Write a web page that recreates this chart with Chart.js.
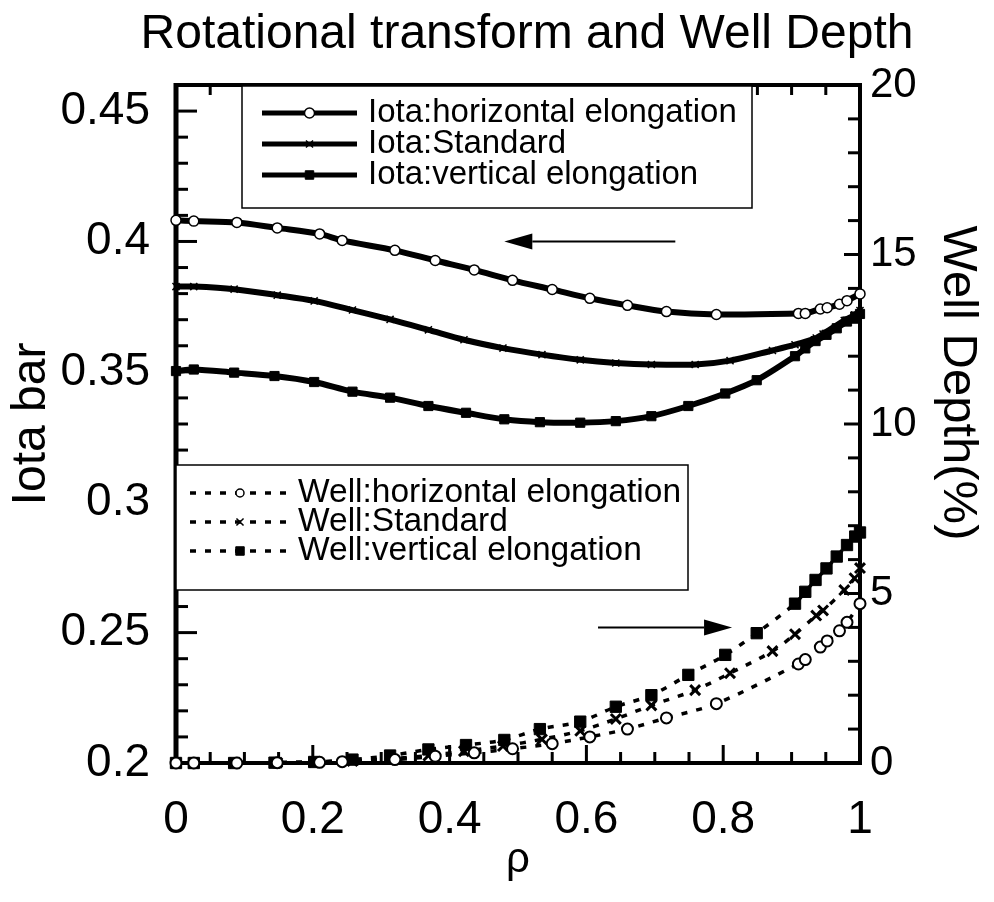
<!DOCTYPE html>
<html>
<head>
<meta charset="utf-8">
<script src="https://cdn.jsdelivr.net/npm/chart.js@4.4.1/dist/chart.umd.min.js"></script>
<style>
  html, body { margin: 0; padding: 0; background: #fff; }
  #wrap { width: 994px; height: 902px; }
</style>
</head>
<body>
<div id="wrap"><canvas id="chart" width="994" height="902"></canvas></div>
<script>
// Normalised radius rho for each configuration
const rhoHorizontal = [0, 0.026, 0.089, 0.148, 0.21, 0.243, 0.32, 0.379, 0.436, 0.492, 0.55, 0.605, 0.66, 0.717, 0.79, 0.91, 0.92, 0.942, 0.952, 0.97, 0.981, 1.0];
const rhoStandard   = [0, 0.026, 0.085, 0.148, 0.202, 0.258, 0.313, 0.369, 0.421, 0.478, 0.535, 0.591, 0.643, 0.695, 0.759, 0.81, 0.872, 0.905, 0.936, 0.946, 0.977, 0.992, 1.0];
const rhoVertical   = [0, 0.026, 0.085, 0.144, 0.202, 0.258, 0.313, 0.369, 0.424, 0.48, 0.532, 0.591, 0.643, 0.695, 0.749, 0.803, 0.849, 0.905, 0.92, 0.935, 0.951, 0.966, 0.981, 0.993, 1.0];

// Rotational transform (iota bar)
const iotaHorizontal = [0.4081, 0.4078, 0.4073, 0.4052, 0.4029, 0.4004, 0.3966, 0.3927, 0.3891, 0.3851, 0.3816, 0.3782, 0.3755, 0.3731, 0.3720, 0.3724, 0.3724, 0.3741, 0.3746, 0.3759, 0.3773, 0.3799];
const iotaStandard   = [0.3827, 0.3827, 0.3817, 0.3794, 0.3772, 0.3737, 0.3701, 0.3661, 0.3623, 0.3591, 0.3566, 0.3546, 0.3534, 0.3528, 0.3528, 0.3543, 0.3582, 0.3604, 0.3630, 0.3645, 0.3697, 0.3718, 0.3735];
const iotaVertical   = [0.3503, 0.3509, 0.3497, 0.3484, 0.3461, 0.3424, 0.3401, 0.3369, 0.3343, 0.3318, 0.3307, 0.3305, 0.3311, 0.3330, 0.3369, 0.3417, 0.3468, 0.3560, 0.3590, 0.3618, 0.3642, 0.3667, 0.3693, 0.3712, 0.3722];

// Magnetic well depth (%)
const wellHorizontal = [0, 0, 0, 0.01, 0.02, 0.04, 0.10, 0.20, 0.30, 0.42, 0.57, 0.77, 1.00, 1.33, 1.75, 2.92, 3.05, 3.42, 3.60, 3.90, 4.15, 4.70];
const wellStandard   = [0, 0, 0, 0.01, 0.03, 0.06, 0.12, 0.22, 0.35, 0.50, 0.70, 0.95, 1.30, 1.70, 2.15, 2.65, 3.30, 3.80, 4.35, 4.50, 5.10, 5.45, 5.75];
const wellVertical   = [0, 0, 0, 0.01, 0.03, 0.10, 0.22, 0.40, 0.53, 0.68, 1.00, 1.22, 1.66, 2.00, 2.60, 3.19, 3.83, 4.70, 5.05, 5.40, 5.74, 6.09, 6.43, 6.68, 6.80];

// Tick labels
const rhoTicks  = [0, 0.2, 0.4, 0.6, 0.8, 1];
const iotaTicks = [0.2, 0.25, 0.3, 0.35, 0.4, 0.45];
const wellTicks = [0, 5, 10, 15, 20];

const titleText = 'Rotational transform and Well Depth';
const wellAxisTitle = 'Well Depth(%)';

const FONT = "'Liberation Sans', Arial, Helvetica, sans-serif";
Chart.defaults.font.family = FONT;
Chart.defaults.color = '#000';

const pts = (xs, ys) => xs.map((x, i) => ({ x, y: ys[i] }));

const iotaBase = {
  yAxisID: 'yIota', borderColor: '#000', borderWidth: 6, tension: 0.3,
  pointBorderColor: '#000', clip: false
};
const wellBase = {
  yAxisID: 'yWell', borderColor: '#000', borderWidth: 3.5, borderDash: [6, 9], tension: 0.3,
  pointBorderColor: '#000', clip: false
};

const datasets = [
  { ...iotaBase, label: 'Iota:horizontal elongation', data: pts(rhoHorizontal, iotaHorizontal),
    pointStyle: 'circle', pointRadius: 5, pointBorderWidth: 1.5, pointBackgroundColor: '#fff', legendRadius: 5 },
  { ...iotaBase, label: 'Iota:Standard', data: pts(rhoStandard, iotaStandard),
    pointStyle: 'crossRot', pointRadius: 5, pointBorderWidth: 1.5, pointBackgroundColor: '#000', legendRadius: 5 },
  { ...iotaBase, label: 'Iota:vertical elongation', data: pts(rhoVertical, iotaVertical),
    pointStyle: 'rect', pointRadius: 6.5, pointBorderWidth: 1, pointBackgroundColor: '#000', legendRadius: 6 },
  { ...wellBase, label: 'Well:horizontal elongation', data: pts(rhoHorizontal, wellHorizontal),
    pointStyle: 'circle', pointRadius: 5.5, pointBorderWidth: 2, pointBackgroundColor: '#fff', legendRadius: 4 },
  { ...wellBase, label: 'Well:Standard', data: pts(rhoStandard, wellStandard),
    pointStyle: 'crossRot', pointRadius: 7, pointBorderWidth: 3, pointBackgroundColor: '#000', legendRadius: 5 },
  { ...wellBase, label: 'Well:vertical elongation', data: pts(rhoVertical, wellVertical),
    pointStyle: 'rect', pointRadius: 8, pointBorderWidth: 1, pointBackgroundColor: '#000', legendRadius: 6 }
];

// Plot frame with inward ticks on all four sides
const frameTicks = {
  id: 'frameTicks',
  beforeDatasetsDraw(chart) {
    const { ctx, chartArea: a, scales } = chart;
    const { x, yIota, yWell } = scales;
    ctx.save();
    ctx.strokeStyle = '#000';
    ctx.lineCap = 'butt';
    const seg = (x1, y1, x2, y2) => { ctx.beginPath(); ctx.moveTo(x1, y1); ctx.lineTo(x2, y2); ctx.stroke(); };
    ctx.lineWidth = 3;
    for (let i = 0; i <= 20; i++) {
      const px = x.getPixelForValue(i * 0.05);
      const len = i % 4 === 0 ? 18 : 11;
      seg(px, a.bottom, px, a.bottom - len);
      seg(px, a.top, px, a.top + (i % 4 === 0 ? 14 : 10));
    }
    for (let i = 0; i <= 26; i++) {
      const py = yIota.getPixelForValue(0.2 + i * 0.01);
      seg(a.left, py, a.left + (i % 5 === 0 ? 21 : 12), py);
    }
    for (let i = 0; i <= 20; i++) {
      const py = yWell.getPixelForValue(i);
      seg(a.right, py, a.right - (i % 5 === 0 ? 16 : 12), py);
    }
    ctx.lineWidth = 5;
    seg(a.left, a.top - 2, a.left, a.bottom + 2);
    ctx.lineWidth = 4;
    seg(a.left, a.bottom, a.right, a.bottom);
    seg(a.left, a.top, a.right, a.top);
    seg(a.right, a.top - 2, a.right, a.bottom + 2);
    ctx.restore();
  }
};

// Direction arrows pointing at the axis each family belongs to
const arrows = {
  id: 'arrows',
  afterDatasetsDraw(chart, args, opts) {
    const { ctx, scales } = chart;
    ctx.save();
    ctx.strokeStyle = '#000';
    ctx.fillStyle = '#000';
    opts.items.forEach(ar => {
      const ys = scales[ar.axis];
      const x0 = scales.x.getPixelForValue(ar.from);
      const x1 = scales.x.getPixelForValue(ar.to);
      const y = ys.getPixelForValue(ar.value);
      const dir = Math.sign(x1 - x0);
      const head = 28, half = 8;
      ctx.lineWidth = 2;
      ctx.beginPath(); ctx.moveTo(x0, y); ctx.lineTo(x1 - dir * head, y); ctx.stroke();
      ctx.beginPath();
      ctx.moveTo(x1, y);
      ctx.lineTo(x1 - dir * head, y - half);
      ctx.lineTo(x1 - dir * head, y + half);
      ctx.closePath();
      ctx.fill();
    });
    ctx.restore();
  }
};

// Boxed legends placed inside the plot
const boxedLegends = {
  id: 'boxedLegends',
  afterDatasetsDraw(chart, args, opts) {
    const { ctx } = chart;
    ctx.save();
    opts.boxes.forEach(b => {
      ctx.fillStyle = '#fff';
      ctx.fillRect(b.left, b.top, b.right - b.left, b.bottom - b.top);
      ctx.strokeStyle = '#000';
      ctx.lineWidth = 1.5;
      ctx.strokeRect(b.left, b.top, b.right - b.left, b.bottom - b.top);
      b.items.forEach((di, k) => {
        const ds = chart.data.datasets[di];
        const y = b.firstRow + k * b.rowGap;
        ctx.save();
        ctx.strokeStyle = ds.borderColor;
        ctx.lineWidth = b.lineWidth;
        ctx.setLineDash(ds.borderDash || []);
        ctx.beginPath(); ctx.moveTo(b.sampleFrom, y); ctx.lineTo(b.sampleTo, y); ctx.stroke();
        ctx.restore();
        ctx.save();
        ctx.fillStyle = ds.pointBackgroundColor;
        ctx.strokeStyle = ds.pointBorderColor;
        ctx.lineWidth = Math.min(ds.pointBorderWidth, 1.5);
        Chart.helpers.drawPoint(ctx, { pointStyle: ds.pointStyle, radius: ds.legendRadius, rotation: 0, borderWidth: ctx.lineWidth },
          (b.sampleFrom + b.sampleTo) / 2, y);
        ctx.restore();
        ctx.fillStyle = '#000';
        ctx.font = b.fontSize + 'px ' + FONT;
        ctx.textBaseline = 'middle';
        ctx.textAlign = 'left';
        ctx.fillText(ds.label, b.textX, y);
      });
    });
    ctx.restore();
  }
};

// Chart title and the right-hand axis caption
const captions = {
  id: 'captions',
  afterDraw(chart) {
    const { ctx } = chart;
    ctx.save();
    ctx.fillStyle = '#000';
    ctx.textAlign = 'center';
    ctx.textBaseline = 'middle';
    ctx.font = '48px ' + FONT;
    ctx.fillText(titleText, 527, 35);
    ctx.translate(958, 383);
    ctx.rotate(Math.PI / 2);
    ctx.font = '49px ' + FONT;
    ctx.fillText(wellAxisTitle, 0, 0);
    ctx.restore();
  }
};

new Chart(document.getElementById('chart'), {
  type: 'line',
  data: { datasets },
  plugins: [frameTicks, arrows, boxedLegends, captions],
  options: {
    responsive: false,
    animation: false,
    devicePixelRatio: 1,
    layout: { padding: { top: 85, left: 0, right: 0, bottom: 0 } },
    plugins: {
      legend: { display: false },
      tooltip: { enabled: false },
      title: { display: false },
      arrows: {
        items: [
          { axis: 'yIota', value: 0.4, from: 0.73, to: 0.48 },
          { axis: 'yWell', value: 4.0, from: 0.617, to: 0.813 }
        ]
      },
      boxedLegends: {
        boxes: [
          { left: 242, top: 86, right: 752, bottom: 208, items: [0, 1, 2], firstRow: 113, rowGap: 31,
            sampleFrom: 262, sampleTo: 357, textX: 368, fontSize: 33, lineWidth: 5 },
          { left: 176, top: 465, right: 688, bottom: 590, items: [3, 4, 5], firstRow: 493, rowGap: 29,
            sampleFrom: 190, sampleTo: 290, textX: 298, fontSize: 33.5, lineWidth: 3.5 }
        ]
      }
    },
    scales: {
      x: {
        type: 'linear', position: 'bottom', min: 0, max: 1,
        grid: { display: false, drawTicks: false }, border: { display: false },
        afterBuildTicks: s => { s.ticks = rhoTicks.map(v => ({ value: v })); },
        afterFit: s => { s.height = 139; },
        ticks: { font: { size: 46 }, padding: 30, color: '#000', callback: v => String(v), maxRotation: 0 },
        title: { display: true, text: 'ρ', font: { size: 42 }, padding: { top: 0, bottom: 16 }, color: '#000' }
      },
      yIota: {
        type: 'linear', position: 'left', min: 0.2, max: 0.46,
        grid: { display: false, drawTicks: false }, border: { display: false },
        afterBuildTicks: s => { s.ticks = iotaTicks.map(v => ({ value: v })); },
        afterFit: s => { s.width = 176; },
        ticks: { font: { size: 46 }, padding: 26, color: '#000', callback: v => String(v) },
        title: { display: true, text: 'Iota bar', font: { size: 48 }, padding: { top: 3 }, color: '#000' }
      },
      yWell: {
        type: 'linear', position: 'right', min: 0, max: 20,
        grid: { display: false, drawTicks: false }, border: { display: false },
        afterBuildTicks: s => { s.ticks = wellTicks.map(v => ({ value: v })); },
        afterFit: s => { s.width = 134; },
        ticks: { font: { size: 42 }, padding: 10, color: '#000', callback: v => String(v) }
      }
    }
  }
});
</script>
</body>
</html>
